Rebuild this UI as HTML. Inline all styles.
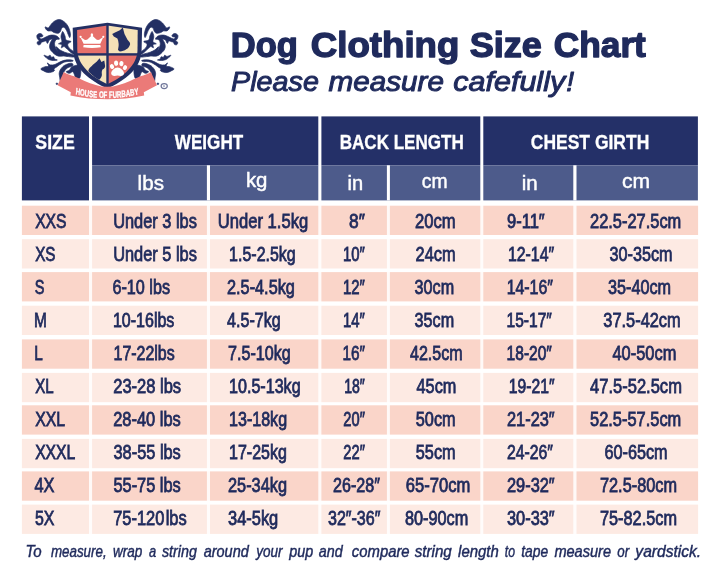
<!DOCTYPE html>
<html lang="en"><head><meta charset="utf-8"><title>Dog Clothing Size Chart</title>
<style>html,body{margin:0;padding:0;background:#fff}body{width:720px;height:572px;overflow:hidden}svg{display:block;filter:blur(.4px)}text{font-family:"Liberation Sans",Arial,sans-serif}.t1{font-size:35.3px;font-weight:bold;fill:#1f2a5c;stroke:#1f2a5c;stroke-width:1.4px;stroke-linejoin:round}.t2{font-size:28.2px;font-style:italic;fill:#1f2a5c;stroke:#1f2a5c;stroke-width:1px;stroke-linejoin:round}.b{font-size:19.4px;fill:#1f2a5c;stroke:#1f2a5c;stroke-width:.8px}.h{font-size:20.2px;font-weight:bold;fill:#fff;stroke:#fff;stroke-width:.3px}.s{font-size:20.3px;fill:#fff;stroke:#fff;stroke-width:.45px}.f{font-size:16px;font-style:italic;fill:#1f2a5c;stroke:#1f2a5c;stroke-width:.45px}</style></head><body>
<svg width="720" height="572" viewBox="0 0 720 572">
<rect width="720" height="572" fill="#fff"/>
<g id="logo">
<g fill="#232f63" stroke="#232f63" stroke-width=".7" stroke-linejoin="round"><path d="M45.3,26.9C45.7,26.6 47.1,28.1 48.1,27.9C49.0,27.7 49.2,26.7 50.1,25.7C51.0,24.6 51.4,23.9 52.5,22.8C53.6,21.8 54.3,21.1 55.7,20.4C57.2,19.8 58.1,19.4 59.7,19.6C61.4,19.8 62.3,20.5 63.8,21.5C65.2,22.5 65.9,23.2 67.0,24.7C68.1,26.2 68.5,27.1 69.2,28.9C69.8,30.7 70.2,32.0 70.4,33.7C70.5,35.4 70.2,37.4 69.8,37.6C69.4,37.7 68.8,35.9 68.2,34.5C67.5,33.1 67.4,32.1 66.6,30.6C65.8,29.2 65.1,27.9 64.2,27.4C63.2,26.9 62.5,27.3 61.8,28.1C61.0,28.8 61.3,30.2 60.5,31.3C59.8,32.3 59.4,33.1 58.1,33.3C56.8,33.5 55.5,33.0 54.1,32.5C52.7,32.0 52.4,31.2 51.3,30.9C50.2,30.6 49.5,31.3 48.5,31.0C47.4,30.8 46.7,30.3 46.1,29.4C45.4,28.6 44.9,27.2 45.3,26.9Z"/><path d="M63.0,31.7C63.6,32.3 64.3,34.4 65.0,36.1C65.6,37.8 65.0,39.0 66.2,40.1C67.4,41.2 70.7,40.8 71.0,41.6C71.3,42.4 68.1,42.8 67.8,44.2C67.5,45.5 68.1,46.6 69.4,48.2C70.7,49.8 73.6,51.1 74.2,52.2C74.9,53.3 74.2,54.6 72.6,53.8C71.0,53.0 68.0,49.6 66.2,48.2C64.4,46.7 64.7,46.7 63.8,46.6C62.8,46.5 61.8,48.2 61.4,47.8C61.0,47.4 62.3,45.4 61.8,44.6C61.2,43.8 58.5,44.3 58.5,43.8C58.5,43.2 61.3,43.1 61.8,41.7C62.2,40.4 61.0,38.6 61.0,36.9C61.0,35.2 61.4,34.3 61.8,33.3C62.2,32.3 62.3,31.1 63.0,31.7Z"/><path d="M37.4,34.7C38.1,34.0 39.3,33.4 40.4,33.5C41.5,33.7 42.5,34.8 42.8,35.5C43.2,36.1 42.7,36.4 42.0,36.8C41.4,37.1 40.1,36.7 39.8,37.1C39.5,37.5 39.8,38.4 40.4,38.7C41.0,39.0 41.6,39.0 42.8,38.5C44.1,38.1 45.2,37.2 46.9,36.5C48.6,35.8 49.3,35.3 51.3,35.1C53.3,35.0 55.1,35.1 56.7,36.0C58.3,36.8 59.6,38.6 59.3,39.2C59.1,39.7 57.0,38.8 55.6,38.8C54.1,38.7 53.4,38.7 52.1,38.9C50.8,39.2 50.2,39.3 49.3,40.1C48.4,41.0 48.2,43.2 47.5,43.4C46.8,43.5 46.8,41.4 45.9,41.1C45.1,40.8 44.2,41.5 43.3,41.7C42.3,42.0 41.8,41.9 41.2,42.4C40.7,42.9 41.1,43.9 40.4,44.3C39.8,44.8 38.5,45.1 37.9,44.6C37.2,44.2 37.0,42.9 37.2,42.1C37.5,41.4 39.0,41.5 39.1,40.9C39.3,40.4 38.3,40.1 37.9,39.3C37.4,38.6 37.0,38.0 36.9,37.1C36.8,36.1 36.7,35.4 37.4,34.7Z"/><path d="M54.1,38.1C52.9,38.5 52.2,39.6 51.3,40.9C50.4,42.3 49.9,43.4 49.7,45.0C49.4,46.6 49.5,47.5 50.1,49.0C50.7,50.4 51.2,50.9 52.5,52.2C53.8,53.5 54.8,54.6 56.5,55.4C58.3,56.2 59.9,56.3 61.4,56.2C62.8,56.1 64.1,55.7 63.8,55.0C63.4,54.4 61.1,54.0 59.7,53.0C58.4,52.0 57.8,51.4 56.9,50.2C56.0,49.0 55.8,48.3 55.3,47.0C54.8,45.6 54.4,44.7 54.5,43.4C54.6,42.0 55.2,41.0 55.7,40.1C56.3,39.3 57.7,39.3 57.3,38.9C57.0,38.5 55.3,37.7 54.1,38.1Z"/><path d="M56.1,47.0C56.3,46.2 58.1,48.7 59.7,49.8C61.4,50.8 62.5,51.4 64.6,52.2C66.7,53.0 68.3,53.2 70.2,53.8C72.1,54.5 73.5,54.8 74.2,55.4C74.9,56.1 74.9,56.8 73.8,57.0C72.7,57.3 70.8,56.9 68.6,56.6C66.4,56.4 64.9,56.4 63.0,55.8C61.0,55.3 60.3,55.6 58.9,53.8C57.6,52.0 56.0,47.8 56.1,47.0Z"/><path d="M44.1,55.2C44.4,55.0 46.5,56.4 47.7,56.4C48.9,56.4 49.4,55.1 50.1,55.2C50.8,55.4 50.6,56.9 51.3,57.2C52.0,57.6 53.1,56.5 53.7,56.8C54.4,57.2 53.8,58.2 54.5,58.8C55.2,59.5 57.6,59.7 57.3,60.1C57.1,60.4 54.9,60.5 53.3,60.5C51.7,60.4 50.7,60.2 49.3,59.7C47.8,59.1 47.1,58.5 46.1,57.6C45.0,56.8 43.7,55.5 44.1,55.2Z"/><path d="M40.8,68.9C41.0,68.1 42.9,67.5 44.5,66.9C46.0,66.3 47.9,66.9 48.5,66.1C49.0,65.3 47.0,63.1 47.3,62.9C47.6,62.6 48.6,64.6 50.1,64.9C51.6,65.2 53.0,65.0 54.9,64.5C56.8,63.9 57.7,63.0 59.7,62.1C61.8,61.2 63.0,60.5 65.4,60.1C67.8,59.7 70.4,59.8 71.8,60.1C73.3,60.3 73.7,60.9 72.6,61.3C71.5,61.6 68.4,61.2 66.2,61.7C63.9,62.1 63.1,62.7 61.4,63.7C59.6,64.6 58.8,65.4 57.3,66.5C55.9,67.5 54.7,68.1 54.1,68.9C53.5,69.7 55.0,69.9 54.5,70.5C54.0,71.2 53.1,71.7 51.7,72.1C50.3,72.5 49.3,72.8 47.7,72.5C46.1,72.3 45.0,71.6 43.7,70.9C42.3,70.2 40.7,69.7 40.8,68.9Z"/><path d="M71.8,63.3C70.5,63.0 68.2,63.6 66.2,64.5C64.2,65.4 63.1,66.1 61.8,67.7C60.4,69.3 59.7,70.6 59.3,72.5C58.9,74.5 59.5,75.3 59.7,77.4C60.0,79.4 60.1,81.6 60.5,82.6C61.0,83.5 61.6,83.1 62.2,82.2C62.7,81.3 63.2,79.8 63.4,78.2C63.5,76.5 62.7,75.6 63.0,74.1C63.2,72.7 63.6,72.2 64.6,70.9C65.5,69.6 66.2,68.7 67.8,67.7C69.4,66.7 71.8,67.0 72.6,66.1C73.4,65.2 73.1,63.6 71.8,63.3Z"/><path d="M72.6,66.5C70.5,67.3 70.7,69.1 69.4,70.1C68.1,71.2 66.2,71.1 66.2,71.7C66.2,72.4 68.1,73.3 69.4,73.3C70.7,73.3 71.7,71.6 72.6,71.7C73.6,71.9 73.6,73.0 74.2,74.1C74.9,75.3 74.7,76.7 75.8,77.4C77.0,78.0 79.2,79.6 80.0,77.4C80.9,75.1 81.5,68.3 80.0,66.1C78.5,63.9 74.7,65.7 72.6,66.5Z"/><circle cx="56.9" cy="83.8" r=".8"/></g>
<g fill="#232f63" stroke="#232f63" stroke-width=".7" stroke-linejoin="round" transform="translate(214.8,0) scale(-1,1)"><path d="M45.3,26.9C45.7,26.6 47.1,28.1 48.1,27.9C49.0,27.7 49.2,26.7 50.1,25.7C51.0,24.6 51.4,23.9 52.5,22.8C53.6,21.8 54.3,21.1 55.7,20.4C57.2,19.8 58.1,19.4 59.7,19.6C61.4,19.8 62.3,20.5 63.8,21.5C65.2,22.5 65.9,23.2 67.0,24.7C68.1,26.2 68.5,27.1 69.2,28.9C69.8,30.7 70.2,32.0 70.4,33.7C70.5,35.4 70.2,37.4 69.8,37.6C69.4,37.7 68.8,35.9 68.2,34.5C67.5,33.1 67.4,32.1 66.6,30.6C65.8,29.2 65.1,27.9 64.2,27.4C63.2,26.9 62.5,27.3 61.8,28.1C61.0,28.8 61.3,30.2 60.5,31.3C59.8,32.3 59.4,33.1 58.1,33.3C56.8,33.5 55.5,33.0 54.1,32.5C52.7,32.0 52.4,31.2 51.3,30.9C50.2,30.6 49.5,31.3 48.5,31.0C47.4,30.8 46.7,30.3 46.1,29.4C45.4,28.6 44.9,27.2 45.3,26.9Z"/><path d="M63.0,31.7C63.6,32.3 64.3,34.4 65.0,36.1C65.6,37.8 65.0,39.0 66.2,40.1C67.4,41.2 70.7,40.8 71.0,41.6C71.3,42.4 68.1,42.8 67.8,44.2C67.5,45.5 68.1,46.6 69.4,48.2C70.7,49.8 73.6,51.1 74.2,52.2C74.9,53.3 74.2,54.6 72.6,53.8C71.0,53.0 68.0,49.6 66.2,48.2C64.4,46.7 64.7,46.7 63.8,46.6C62.8,46.5 61.8,48.2 61.4,47.8C61.0,47.4 62.3,45.4 61.8,44.6C61.2,43.8 58.5,44.3 58.5,43.8C58.5,43.2 61.3,43.1 61.8,41.7C62.2,40.4 61.0,38.6 61.0,36.9C61.0,35.2 61.4,34.3 61.8,33.3C62.2,32.3 62.3,31.1 63.0,31.7Z"/><path d="M37.4,34.7C38.1,34.0 39.3,33.4 40.4,33.5C41.5,33.7 42.5,34.8 42.8,35.5C43.2,36.1 42.7,36.4 42.0,36.8C41.4,37.1 40.1,36.7 39.8,37.1C39.5,37.5 39.8,38.4 40.4,38.7C41.0,39.0 41.6,39.0 42.8,38.5C44.1,38.1 45.2,37.2 46.9,36.5C48.6,35.8 49.3,35.3 51.3,35.1C53.3,35.0 55.1,35.1 56.7,36.0C58.3,36.8 59.6,38.6 59.3,39.2C59.1,39.7 57.0,38.8 55.6,38.8C54.1,38.7 53.4,38.7 52.1,38.9C50.8,39.2 50.2,39.3 49.3,40.1C48.4,41.0 48.2,43.2 47.5,43.4C46.8,43.5 46.8,41.4 45.9,41.1C45.1,40.8 44.2,41.5 43.3,41.7C42.3,42.0 41.8,41.9 41.2,42.4C40.7,42.9 41.1,43.9 40.4,44.3C39.8,44.8 38.5,45.1 37.9,44.6C37.2,44.2 37.0,42.9 37.2,42.1C37.5,41.4 39.0,41.5 39.1,40.9C39.3,40.4 38.3,40.1 37.9,39.3C37.4,38.6 37.0,38.0 36.9,37.1C36.8,36.1 36.7,35.4 37.4,34.7Z"/><path d="M54.1,38.1C52.9,38.5 52.2,39.6 51.3,40.9C50.4,42.3 49.9,43.4 49.7,45.0C49.4,46.6 49.5,47.5 50.1,49.0C50.7,50.4 51.2,50.9 52.5,52.2C53.8,53.5 54.8,54.6 56.5,55.4C58.3,56.2 59.9,56.3 61.4,56.2C62.8,56.1 64.1,55.7 63.8,55.0C63.4,54.4 61.1,54.0 59.7,53.0C58.4,52.0 57.8,51.4 56.9,50.2C56.0,49.0 55.8,48.3 55.3,47.0C54.8,45.6 54.4,44.7 54.5,43.4C54.6,42.0 55.2,41.0 55.7,40.1C56.3,39.3 57.7,39.3 57.3,38.9C57.0,38.5 55.3,37.7 54.1,38.1Z"/><path d="M56.1,47.0C56.3,46.2 58.1,48.7 59.7,49.8C61.4,50.8 62.5,51.4 64.6,52.2C66.7,53.0 68.3,53.2 70.2,53.8C72.1,54.5 73.5,54.8 74.2,55.4C74.9,56.1 74.9,56.8 73.8,57.0C72.7,57.3 70.8,56.9 68.6,56.6C66.4,56.4 64.9,56.4 63.0,55.8C61.0,55.3 60.3,55.6 58.9,53.8C57.6,52.0 56.0,47.8 56.1,47.0Z"/><path d="M44.1,55.2C44.4,55.0 46.5,56.4 47.7,56.4C48.9,56.4 49.4,55.1 50.1,55.2C50.8,55.4 50.6,56.9 51.3,57.2C52.0,57.6 53.1,56.5 53.7,56.8C54.4,57.2 53.8,58.2 54.5,58.8C55.2,59.5 57.6,59.7 57.3,60.1C57.1,60.4 54.9,60.5 53.3,60.5C51.7,60.4 50.7,60.2 49.3,59.7C47.8,59.1 47.1,58.5 46.1,57.6C45.0,56.8 43.7,55.5 44.1,55.2Z"/><path d="M40.8,68.9C41.0,68.1 42.9,67.5 44.5,66.9C46.0,66.3 47.9,66.9 48.5,66.1C49.0,65.3 47.0,63.1 47.3,62.9C47.6,62.6 48.6,64.6 50.1,64.9C51.6,65.2 53.0,65.0 54.9,64.5C56.8,63.9 57.7,63.0 59.7,62.1C61.8,61.2 63.0,60.5 65.4,60.1C67.8,59.7 70.4,59.8 71.8,60.1C73.3,60.3 73.7,60.9 72.6,61.3C71.5,61.6 68.4,61.2 66.2,61.7C63.9,62.1 63.1,62.7 61.4,63.7C59.6,64.6 58.8,65.4 57.3,66.5C55.9,67.5 54.7,68.1 54.1,68.9C53.5,69.7 55.0,69.9 54.5,70.5C54.0,71.2 53.1,71.7 51.7,72.1C50.3,72.5 49.3,72.8 47.7,72.5C46.1,72.3 45.0,71.6 43.7,70.9C42.3,70.2 40.7,69.7 40.8,68.9Z"/><path d="M71.8,63.3C70.5,63.0 68.2,63.6 66.2,64.5C64.2,65.4 63.1,66.1 61.8,67.7C60.4,69.3 59.7,70.6 59.3,72.5C58.9,74.5 59.5,75.3 59.7,77.4C60.0,79.4 60.1,81.6 60.5,82.6C61.0,83.5 61.6,83.1 62.2,82.2C62.7,81.3 63.2,79.8 63.4,78.2C63.5,76.5 62.7,75.6 63.0,74.1C63.2,72.7 63.6,72.2 64.6,70.9C65.5,69.6 66.2,68.7 67.8,67.7C69.4,66.7 71.8,67.0 72.6,66.1C73.4,65.2 73.1,63.6 71.8,63.3Z"/><path d="M72.6,66.5C70.5,67.3 70.7,69.1 69.4,70.1C68.1,71.2 66.2,71.1 66.2,71.7C66.2,72.4 68.1,73.3 69.4,73.3C70.7,73.3 71.7,71.6 72.6,71.7C73.6,71.9 73.6,73.0 74.2,74.1C74.9,75.3 74.7,76.7 75.8,77.4C77.0,78.0 79.2,79.6 80.0,77.4C80.9,75.1 81.5,68.3 80.0,66.1C78.5,63.9 74.7,65.7 72.6,66.5Z"/><circle cx="56.9" cy="83.8" r=".8"/></g>
<path fill="#232f63" d="M72.7,27.8L107.4,22.7L142.1,27.8L141.6,50C141.8,68 124.5,81 107.4,88.5C90.3,81 73,68 73.2,50Z"/>
<clipPath id="sh"><path d="M77.1,30L107.4,25.4L137.7,30L137.5,50C137.3,65 123,77 107.4,84.3C91.8,77 77.5,65 77.3,50Z"/></clipPath>
<g clip-path="url(#sh)">
<rect x="70" y="20" width="36.3" height="33.2" fill="#e6706b"/>
<rect x="108.7" y="20" width="36" height="33.2" fill="#f5e2b8"/>
<rect x="70" y="55.6" width="36.3" height="34" fill="#f5e2b8"/>
<rect x="108.7" y="55.6" width="36" height="34" fill="#e6706b"/>
<path fill="#232f63" d="M99.6,58.2L101.4,61.9L104.3,60.6L104.9,64.6C105.6,66.6 104.8,68.8 102.5,69.6C101.6,71.5 101.7,73 101.9,74.3C102,76.5 101,78 99.6,79.4L97,80.5C95,78.6 94,77 93,75.5C90.5,73.8 88.8,72.5 88.3,70.8C88.8,68.6 90.2,67.2 91.8,66C93.2,64.2 95,63 96.6,61.8Z"/>
</g>
<g fill="#fff"><path d="M83.6,43.8L80.4,37L83.2,38.8C84.6,40.2 86.2,40.4 87.4,39.6L91.9,35.2L96.4,39.6C97.6,40.4 99.2,40.2 100.6,38.8L103.4,37L100.3,43.8Z"/><path d="M83.6,44.9L100.3,44.9L100.8,47.2C95,48.3 89,48.3 83.2,47.2Z"/><circle cx="80.6" cy="36.8" r="1.1"/><circle cx="103.3" cy="36.8" r="1.1"/><circle cx="91.9" cy="35" r="1.3"/><rect x="91.4" y="33.2" width="1" height="2"/></g>
<path fill="#232f63" d="M122.8,27.6L124.5,33.9C125.6,36 126.6,38 127.5,39.8C129,41.5 130.3,42.6 130.1,44.2C129.6,46.5 128.2,48.2 126.3,49.3C124.4,50.6 122.2,51.4 119.8,51.6L118,49.9C118.3,47.6 118.9,45.6 118.6,43.4C118.5,41.6 118,40 117.4,38.6L113.8,36.4L112.2,33.9L115,32.4L119.8,30.2Z"/>
<g fill="#fff"><path d="M117.6,67.6C120.5,67.6 124.2,71 124,73.6C123.8,76.2 121,76.4 117.6,75.6C114.2,76.4 111.4,76.2 111.2,73.6C111,71 114.7,67.6 117.6,67.6Z"/><ellipse cx="112" cy="66.6" rx="2" ry="2.5" transform="rotate(-25 112 66.6)"/><ellipse cx="116.1" cy="63.2" rx="2.1" ry="2.7" transform="rotate(-8 116.1 63.2)"/><ellipse cx="121.4" cy="63.6" rx="2.1" ry="2.7" transform="rotate(10 121.4 63.6)"/><ellipse cx="125" cy="67.6" rx="2" ry="2.5" transform="rotate(28 125 67.6)"/></g>
<path fill="#eb7a78" d="M63.8,71.9C67,74 70.5,75 74.1,76.3C78,77.8 81,79.5 84.6,80.9C92,84 99.5,86.8 107.3,86.8C115.1,86.8 122.6,84 130,80.9C133.6,79.5 136.6,77.8 140.5,76.3C144.1,75 147.6,74 150.8,71.9L157,85.3L143.8,92.2L144.2,95.4C132,98 119,99.2 107.3,99.2C95.6,99.2 82.6,98 70.4,95.4L70.8,92.2L57.6,85.3Z"/>
<path id="rb" fill="none" d="M111.5,93.6C128.2,96.7 146.6,98.1 163.5,98.1C180.5,98.1 198.8,96.7 215.6,93.6"/>
<text transform="scale(0.655,1)" font-size="9.3" font-weight="bold" fill="#fff" stroke="#fff" stroke-width=".3" text-anchor="middle"><textPath href="#rb" startOffset="50%">HOUSE OF FURBABY</textPath></text>
<ellipse cx="164.2" cy="86.1" rx="3.1" ry="2.5" fill="none" stroke="#6f7699" stroke-width="1.2"/><text x="164.2" y="87.3" font-size="3.4" text-anchor="middle" fill="#6f7699" font-weight="bold">c</text>
</g>
<g>
<rect x="21.9" y="116.4" width="67.1" height="84" fill="#243068"/>
<rect x="92.1" y="116.4" width="226.2" height="48.9" fill="#243068"/>
<rect x="92.1" y="165.3" width="226.2" height="35.1" fill="#4d5b8b"/>
<rect x="206.9" y="165.3" width="3.1" height="35.1" fill="#fff"/>
<rect x="321.4" y="116.4" width="158.9" height="48.9" fill="#243068"/>
<rect x="321.4" y="165.3" width="158.9" height="35.1" fill="#4d5b8b"/>
<rect x="386.9" y="165.3" width="3" height="35.1" fill="#fff"/>
<rect x="483.3" y="116.4" width="214.6" height="48.9" fill="#243068"/>
<rect x="483.3" y="165.3" width="214.6" height="35.1" fill="#4d5b8b"/>
<rect x="573.3" y="165.3" width="3.2" height="35.1" fill="#fff"/>
</g>
<g>
<rect x="21.9" y="205.7" width="676.2" height="29.3" fill="#fad5c9"/>
<rect x="21.9" y="239.2" width="676.2" height="29.3" fill="#fdeae3"/>
<rect x="21.9" y="272.1" width="676.2" height="29.3" fill="#fad5c9"/>
<rect x="21.9" y="305.7" width="676.2" height="29.3" fill="#fdeae3"/>
<rect x="21.9" y="339.4" width="676.2" height="29.3" fill="#fad5c9"/>
<rect x="21.9" y="372.9" width="676.2" height="29.3" fill="#fdeae3"/>
<rect x="21.9" y="405.3" width="676.2" height="29.3" fill="#fad5c9"/>
<rect x="21.9" y="438.9" width="676.2" height="29.3" fill="#fdeae3"/>
<rect x="21.9" y="471.4" width="676.2" height="29.3" fill="#fad5c9"/>
<rect x="21.9" y="504.6" width="676.2" height="29.3" fill="#fdeae3"/>
<rect x="89" y="204.6" width="3.1" height="331.7" fill="#fff" opacity=".85"/>
<rect x="206.9" y="204.6" width="3.1" height="331.7" fill="#fff" opacity=".85"/>
<rect x="318.3" y="204.6" width="3.1" height="331.7" fill="#fff" opacity=".85"/>
<rect x="386.9" y="204.6" width="3" height="331.7" fill="#fff" opacity=".85"/>
<rect x="480.3" y="204.6" width="3" height="331.7" fill="#fff" opacity=".85"/>
<rect x="573.3" y="204.6" width="3.2" height="331.7" fill="#fff" opacity=".85"/>
</g>
<text class="t1" y="57"><tspan x="230.87" textLength="67.08" lengthAdjust="spacingAndGlyphs">Dog</tspan> <tspan x="310.88" textLength="148.44" lengthAdjust="spacingAndGlyphs">Clothing</tspan> <tspan x="469.68" textLength="72.14" lengthAdjust="spacingAndGlyphs">Size</tspan> <tspan x="553.81" textLength="92.06" lengthAdjust="spacingAndGlyphs">Chart</tspan></text>
<text class="t2" y="90.8"><tspan x="231.09" textLength="87.8" lengthAdjust="spacingAndGlyphs">Please</tspan> <tspan x="328.56" textLength="115.47" lengthAdjust="spacingAndGlyphs">measure</tspan> <tspan x="453.3" textLength="111.87" lengthAdjust="spacingAndGlyphs">cafefully</tspan><tspan x="566.2" textLength="7.84" lengthAdjust="spacingAndGlyphs">!</tspan></text>
<text class="h" x="35.33" y="149.2" textLength="39.41" lengthAdjust="spacingAndGlyphs">SIZE</text>
<text class="h" x="174.82" y="149.2" textLength="68.39" lengthAdjust="spacingAndGlyphs">WEIGHT</text>
<text class="h" x="339.66" y="149.2" textLength="124.21" lengthAdjust="spacingAndGlyphs">BACK LENGTH</text>
<text class="h" x="530.8" y="149.2" textLength="118.47" lengthAdjust="spacingAndGlyphs">CHEST GIRTH</text>
<text class="s" x="137.62" y="190" textLength="26.33" lengthAdjust="spacingAndGlyphs">lbs</text>
<text class="s" x="245.93" y="187" textLength="21.54" lengthAdjust="spacingAndGlyphs">kg</text>
<text class="s" x="347.57" y="190" textLength="15.63" lengthAdjust="spacingAndGlyphs">in</text>
<text class="s" x="421.8" y="187.7" textLength="25.78" lengthAdjust="spacingAndGlyphs">cm</text>
<text class="s" x="521.73" y="190" textLength="16" lengthAdjust="spacingAndGlyphs">in</text>
<text class="s" x="621.98" y="187.7" textLength="28.12" lengthAdjust="spacingAndGlyphs">cm</text>
<text class="b" x="35.13" y="227.8" textLength="31.4" lengthAdjust="spacingAndGlyphs">XXS</text>
<text class="b" x="113.18" y="227.8" textLength="83.71" lengthAdjust="spacingAndGlyphs">Under 3 lbs</text>
<text class="b" x="217.87" y="227.8" textLength="90.29" lengthAdjust="spacingAndGlyphs">Under 1.5kg</text>
<text class="b" x="349.04" y="227.8" textLength="15.8" lengthAdjust="spacingAndGlyphs">8″</text>
<text class="b" x="414.89" y="227.8" textLength="40.73" lengthAdjust="spacingAndGlyphs">20cm</text>
<text class="b" x="507" y="227.8" textLength="37.73" lengthAdjust="spacingAndGlyphs">9-11″</text>
<text class="b" x="590" y="227.8" textLength="91.29" lengthAdjust="spacingAndGlyphs">22.5-27.5cm</text>
<text class="b" x="35.13" y="260.8" textLength="20.36" lengthAdjust="spacingAndGlyphs">XS</text>
<text class="b" x="113.18" y="260.8" textLength="83.71" lengthAdjust="spacingAndGlyphs">Under 5 lbs</text>
<text class="b" x="229.12" y="260.8" textLength="66.59" lengthAdjust="spacingAndGlyphs">1.5-2.5kg</text>
<text class="b" x="343.04" y="260.8" textLength="21.83" lengthAdjust="spacingAndGlyphs">10″</text>
<text class="b" x="415.57" y="260.8" textLength="40.07" lengthAdjust="spacingAndGlyphs">24cm</text>
<text class="b" x="507.92" y="260.8" textLength="46.19" lengthAdjust="spacingAndGlyphs">12-14″</text>
<text class="b" x="609.62" y="260.8" textLength="63.01" lengthAdjust="spacingAndGlyphs">30-35cm</text>
<text class="b" x="34.69" y="293.8" textLength="9.7" lengthAdjust="spacingAndGlyphs">S</text>
<text class="b" x="112.51" y="293.8" textLength="57.49" lengthAdjust="spacingAndGlyphs">6-10 lbs</text>
<text class="b" x="227" y="293.8" textLength="67.92" lengthAdjust="spacingAndGlyphs">2.5-4.5kg</text>
<text class="b" x="343.03" y="293.8" textLength="21.83" lengthAdjust="spacingAndGlyphs">12″</text>
<text class="b" x="414.6" y="293.8" textLength="39.51" lengthAdjust="spacingAndGlyphs">30cm</text>
<text class="b" x="506.63" y="293.8" textLength="46.28" lengthAdjust="spacingAndGlyphs">14-16″</text>
<text class="b" x="608" y="293.8" textLength="63.06" lengthAdjust="spacingAndGlyphs">35-40cm</text>
<text class="b" x="33.97" y="326.8" textLength="12.86" lengthAdjust="spacingAndGlyphs">M</text>
<text class="b" x="112.97" y="326.8" textLength="61.39" lengthAdjust="spacingAndGlyphs">10-16lbs</text>
<text class="b" x="227" y="326.8" textLength="53.72" lengthAdjust="spacingAndGlyphs">4.5-7kg</text>
<text class="b" x="343.04" y="326.8" textLength="21.83" lengthAdjust="spacingAndGlyphs">14″</text>
<text class="b" x="414.58" y="326.8" textLength="39.51" lengthAdjust="spacingAndGlyphs">35cm</text>
<text class="b" x="506.59" y="326.8" textLength="45.23" lengthAdjust="spacingAndGlyphs">15-17″</text>
<text class="b" x="603.36" y="326.8" textLength="77.29" lengthAdjust="spacingAndGlyphs">37.5-42cm</text>
<text class="b" x="34.15" y="359.8" textLength="8.5" lengthAdjust="spacingAndGlyphs">L</text>
<text class="b" x="113.62" y="359.8" textLength="61.06" lengthAdjust="spacingAndGlyphs">17-22lbs</text>
<text class="b" x="228" y="359.8" textLength="62.68" lengthAdjust="spacingAndGlyphs">7.5-10kg</text>
<text class="b" x="342.52" y="359.8" textLength="22.43" lengthAdjust="spacingAndGlyphs">16″</text>
<text class="b" x="410" y="359.8" textLength="52.67" lengthAdjust="spacingAndGlyphs">42.5cm</text>
<text class="b" x="506.62" y="359.8" textLength="45.21" lengthAdjust="spacingAndGlyphs">18-20″</text>
<text class="b" x="612.47" y="359.8" textLength="63.91" lengthAdjust="spacingAndGlyphs">40-50cm</text>
<text class="b" x="35.13" y="392.8" textLength="18.42" lengthAdjust="spacingAndGlyphs">XL</text>
<text class="b" x="113.22" y="392.8" textLength="67.92" lengthAdjust="spacingAndGlyphs">23-28 lbs</text>
<text class="b" x="229.08" y="392.8" textLength="71.51" lengthAdjust="spacingAndGlyphs">10.5-13kg</text>
<text class="b" x="344.22" y="392.8" textLength="20.62" lengthAdjust="spacingAndGlyphs">18″</text>
<text class="b" x="416.59" y="392.8" textLength="39.77" lengthAdjust="spacingAndGlyphs">45cm</text>
<text class="b" x="508.84" y="392.8" textLength="45.66" lengthAdjust="spacingAndGlyphs">19-21″</text>
<text class="b" x="590" y="392.8" textLength="91.92" lengthAdjust="spacingAndGlyphs">47.5-52.5cm</text>
<text class="b" x="35.14" y="425.8" textLength="29.86" lengthAdjust="spacingAndGlyphs">XXL</text>
<text class="b" x="113.19" y="425.8" textLength="67.56" lengthAdjust="spacingAndGlyphs">28-40 lbs</text>
<text class="b" x="229.08" y="425.8" textLength="58" lengthAdjust="spacingAndGlyphs">13-18kg</text>
<text class="b" x="343.35" y="425.8" textLength="21.49" lengthAdjust="spacingAndGlyphs">20″</text>
<text class="b" x="415.79" y="425.8" textLength="39.85" lengthAdjust="spacingAndGlyphs">50cm</text>
<text class="b" x="507" y="425.8" textLength="47.62" lengthAdjust="spacingAndGlyphs">21-23″</text>
<text class="b" x="590" y="425.8" textLength="91.29" lengthAdjust="spacingAndGlyphs">52.5-57.5cm</text>
<text class="b" x="35.13" y="458.8" textLength="40.14" lengthAdjust="spacingAndGlyphs">XXXL</text>
<text class="b" x="113.49" y="458.8" textLength="67.33" lengthAdjust="spacingAndGlyphs">38-55 lbs</text>
<text class="b" x="229.08" y="458.8" textLength="57.79" lengthAdjust="spacingAndGlyphs">17-25kg</text>
<text class="b" x="343.33" y="458.8" textLength="21.51" lengthAdjust="spacingAndGlyphs">22″</text>
<text class="b" x="415.79" y="458.8" textLength="39.85" lengthAdjust="spacingAndGlyphs">55cm</text>
<text class="b" x="507" y="458.8" textLength="45.92" lengthAdjust="spacingAndGlyphs">24-26″</text>
<text class="b" x="604.46" y="458.8" textLength="63.18" lengthAdjust="spacingAndGlyphs">60-65cm</text>
<text class="b" x="34.38" y="491.8" textLength="19.96" lengthAdjust="spacingAndGlyphs">4X</text>
<text class="b" x="113.45" y="491.8" textLength="67.32" lengthAdjust="spacingAndGlyphs">55-75 lbs</text>
<text class="b" x="228" y="491.8" textLength="59.02" lengthAdjust="spacingAndGlyphs">25-34kg</text>
<text class="b" x="333" y="491.8" textLength="46.83" lengthAdjust="spacingAndGlyphs">26-28″</text>
<text class="b" x="405.87" y="491.8" textLength="64.52" lengthAdjust="spacingAndGlyphs">65-70cm</text>
<text class="b" x="507" y="491.8" textLength="47.62" lengthAdjust="spacingAndGlyphs">29-32″</text>
<text class="b" x="600" y="491.8" textLength="76.99" lengthAdjust="spacingAndGlyphs">72.5-80cm</text>
<text class="b" x="35" y="524.8" textLength="19.45" lengthAdjust="spacingAndGlyphs">5X</text>
<text class="b" x="113.18" y="524.8" textLength="73.48" lengthAdjust="spacingAndGlyphs">75-120 lbs</text>
<text class="b" x="228" y="524.8" textLength="50.26" lengthAdjust="spacingAndGlyphs">34-5kg</text>
<text class="b" x="328" y="524.8" textLength="52.4" lengthAdjust="spacingAndGlyphs">32″-36″</text>
<text class="b" x="405" y="524.8" textLength="63.29" lengthAdjust="spacingAndGlyphs">80-90cm</text>
<text class="b" x="507" y="524.8" textLength="47.62" lengthAdjust="spacingAndGlyphs">30-33″</text>
<text class="b" x="600" y="524.8" textLength="76.99" lengthAdjust="spacingAndGlyphs">75-82.5cm</text>
<text class="f" y="557.3"><tspan x="25.51" textLength="16.16" lengthAdjust="spacingAndGlyphs">To</tspan> <tspan x="50.94" textLength="55.71" lengthAdjust="spacingAndGlyphs">measure,</tspan> <tspan x="112.97" textLength="29.33" lengthAdjust="spacingAndGlyphs">wrap</tspan> <tspan x="149.06" textLength="7.17" lengthAdjust="spacingAndGlyphs">a</tspan> <tspan x="161.97" textLength="34.89" lengthAdjust="spacingAndGlyphs">string</tspan> <tspan x="203.64" textLength="45.18" lengthAdjust="spacingAndGlyphs">around</tspan> <tspan x="256.14" textLength="26.32" lengthAdjust="spacingAndGlyphs">your</tspan> <tspan x="289.37" textLength="23.93" lengthAdjust="spacingAndGlyphs">pup</tspan> <tspan x="318.85" textLength="23.85" lengthAdjust="spacingAndGlyphs">and</tspan> <tspan x="351.85" textLength="57.77" lengthAdjust="spacingAndGlyphs">compare</tspan> <tspan x="414.76" textLength="37.01" lengthAdjust="spacingAndGlyphs">string</tspan> <tspan x="458.07" textLength="40.62" lengthAdjust="spacingAndGlyphs">length</tspan> <tspan x="504.74" textLength="10.21" lengthAdjust="spacingAndGlyphs">to</tspan> <tspan x="521.28" textLength="26.94" lengthAdjust="spacingAndGlyphs">tape</tspan> <tspan x="554.38" textLength="56.7" lengthAdjust="spacingAndGlyphs">measure</tspan> <tspan x="617.31" textLength="11.85" lengthAdjust="spacingAndGlyphs">or</tspan> <tspan x="635.35" textLength="65.75" lengthAdjust="spacingAndGlyphs">yardstick.</tspan></text>
</svg></body></html>
